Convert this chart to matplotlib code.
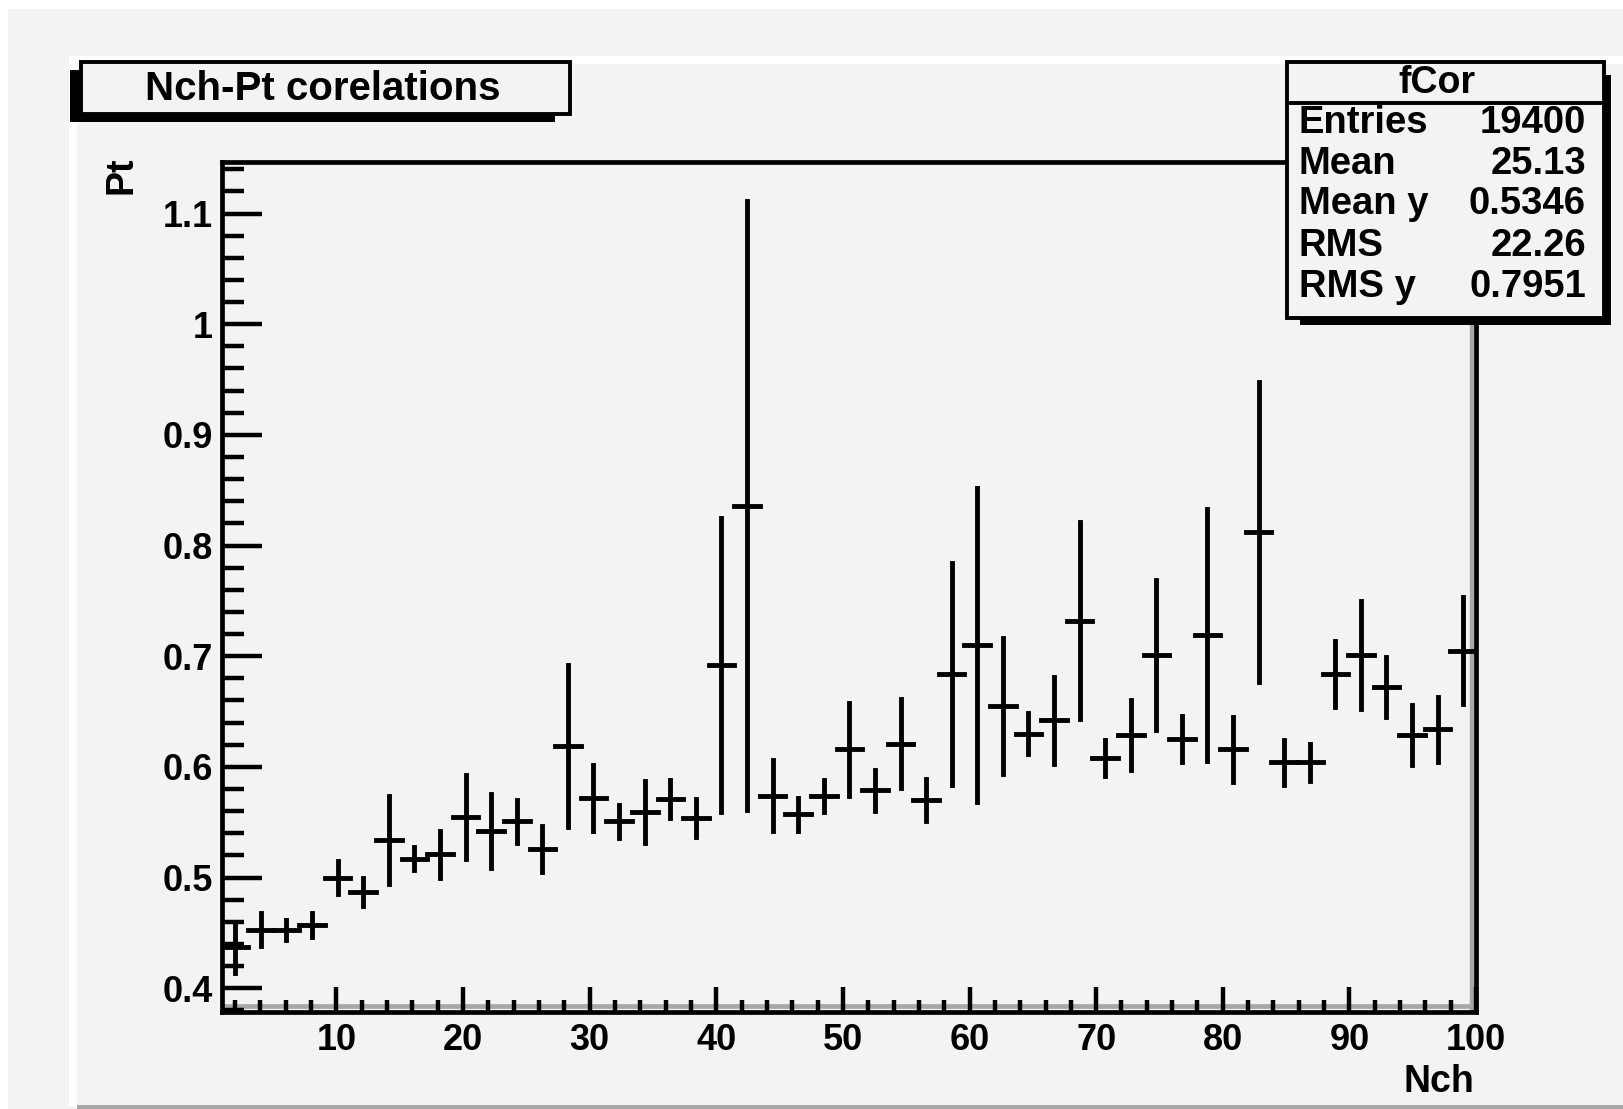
import matplotlib
matplotlib.use('Agg')
import matplotlib.pyplot as plt
from matplotlib.patches import Rectangle
from matplotlib.lines import Line2D
from matplotlib.ticker import MultipleLocator, FuncFormatter

# ---------------- data ----------------
nch = [2.01, 4.03, 6.05, 8.07, 10.09, 12.11, 14.14, 16.16, 18.18, 20.20,
       22.22, 24.24, 26.26, 28.28, 30.30, 32.33, 34.35, 36.37, 38.39, 40.41,
       42.43, 44.45, 46.47, 48.49, 50.51, 52.53, 54.55, 56.57, 58.59, 60.61,
       62.63, 64.65, 66.67, 68.69, 70.71, 72.73, 74.75, 76.77, 78.79, 80.81,
       82.83, 84.85, 86.87, 88.89, 90.91, 92.93, 94.95, 96.97, 98.99]
nch_err = 1.01
pt_mean = [0.437, 0.453, 0.453, 0.457, 0.500, 0.487, 0.534, 0.517, 0.521, 0.555,
           0.542, 0.551, 0.526, 0.619, 0.572, 0.551, 0.559, 0.571, 0.554, 0.692,
           0.836, 0.574, 0.557, 0.574, 0.616, 0.579, 0.621, 0.570, 0.684, 0.710,
           0.655, 0.630, 0.642, 0.732, 0.608, 0.629, 0.701, 0.625, 0.719, 0.616,
           0.812, 0.604, 0.604, 0.684, 0.701, 0.672, 0.629, 0.634, 0.705]
pt_err = [0.023, 0.015, 0.009, 0.011, 0.015, 0.0125, 0.040, 0.0105, 0.021, 0.038,
          0.0335, 0.0195, 0.021, 0.073, 0.030, 0.015, 0.028, 0.017, 0.017, 0.133,
          0.275, 0.032, 0.0145, 0.0145, 0.042, 0.0186, 0.040, 0.0187, 0.100, 0.1417,
          0.0612, 0.0185, 0.0395, 0.089, 0.0165, 0.0316, 0.0675, 0.021, 0.114, 0.0294,
          0.1354, 0.0206, 0.0166, 0.0297, 0.0485, 0.0273, 0.0271, 0.0294, 0.0482]

title = "Nch-Pt corelations"
stats_name = "fCor"
stats_labels = ["Entries", "Mean", "Mean y", "RMS", "RMS y"]
stats_values = ["19400", "25.13", "0.5346", "22.26", "0.7951"]
x_label = "Nch"
y_label = "Pt"

# ---------------- styling ----------------
W, H = 1624, 1109
BG = '#f3f3f3'
FONT = 'Liberation Sans'
FS = 26

fig = plt.figure(figsize=(W / 100, H / 100), dpi=100, facecolor=BG)


def fx(x):
    return x / W


def fy(y):
    return 1 - y / H


def rect(x0, y0, x1, y1, fc, ec='none', lw=0, z=1):
    r = Rectangle((fx(x0), fy(y1)), (x1 - x0) / W, (y1 - y0) / H,
                  transform=fig.transFigure, facecolor=fc, edgecolor=ec,
                  linewidth=lw, zorder=z)
    fig.add_artist(r)
    return r


# canvas / pad borders
rect(0, 0, W, 9, 'white', z=0.5)
rect(0, 0, 8, H, 'white', z=0.5)
rect(69, 56, W, 64, 'white', z=0.5)
rect(69, 56, 77, 1106, 'white', z=0.5)
rect(77, 1105, W, 1109, '#a8a8a8', z=0.5)

# axes frame
ax = fig.add_axes([fx(222.5), fy(1011.5), (1476 - 222.5) / W, (1011.5 - 161.5) / H])
ax.set_facecolor(BG)
ax.set_xlim(1, 100)
ax.set_ylim(0.379, 1.147)

eb = ax.errorbar(nch, pt_mean, yerr=pt_err, xerr=nch_err, fmt='none',
                 ecolor='black', elinewidth=3.5, capsize=0, zorder=3)
for coll in eb[2]:
    coll.set_capstyle('projecting')
    coll.set_clip_on(True)

# frame bevel (gray inner lines at bottom and right), below the ticks
ax.add_line(Line2D([0, 1], [0.006, 0.006], transform=ax.transAxes,
                   color='#a8a8a8', lw=3.4, zorder=1, solid_capstyle='butt'))
ax.add_line(Line2D([0.9965, 0.9965], [0, 1], transform=ax.transAxes,
                   color='#a8a8a8', lw=3.2, zorder=1, solid_capstyle='butt'))
ax.set_axisbelow(False)

for s in ax.spines.values():
    s.set_linewidth(3.4)
    s.set_color('black')
    s.set_zorder(4)

ax.xaxis.set_major_locator(MultipleLocator(10))
ax.xaxis.set_minor_locator(MultipleLocator(2))
ax.yaxis.set_major_locator(MultipleLocator(0.1))
ax.yaxis.set_minor_locator(MultipleLocator(0.02))
ax.yaxis.set_major_formatter(FuncFormatter(lambda v, p: '%g' % round(v, 3)))
ax.xaxis.set_major_formatter(FuncFormatter(lambda v, p: '%g' % round(v, 3)))

ax.tick_params(axis='x', which='major', direction='in', length=18, width=3.2,
               pad=8, labelsize=FS)
ax.tick_params(axis='x', which='minor', direction='in', length=9, width=3.2)
ax.tick_params(axis='y', which='major', direction='in', length=29, width=3.2,
               pad=7, labelsize=FS)
ax.tick_params(axis='y', which='minor', direction='in', length=15.5, width=3.2)
ax.tick_params(top=False, right=False, which='both')
for lab in ax.get_xticklabels() + ax.get_yticklabels():
    lab.set_fontfamily(FONT)
    lab.set_fontweight('bold')

# axis titles (ROOT style: at end of axes)
fig.text(fx(1474), fy(1082), x_label, ha='right', va='center', fontsize=FS + 1,
         fontfamily=FONT, fontweight='bold')
fig.text(fx(121), fy(156), y_label, ha='center', va='top', rotation=90,
         fontsize=FS + 1, fontfamily=FONT, fontweight='bold')

# title box with shadow
rect(70, 70, 555, 122, 'black', z=5)
rect(81, 62, 570, 114, BG, ec='black', lw=2.8, z=6)
fig.text(fx(323), fy(89), title, ha='center', va='center', fontsize=29,
         fontfamily=FONT, fontweight='bold', zorder=7)

# stats box with shadow
rect(1300, 75, 1611, 325, 'black', z=5)
rect(1287, 62, 1604, 318, BG, ec='black', lw=2.8, z=6)
fig.add_artist(Line2D([fx(1287), fx(1604)], [fy(103), fy(103)],
                      transform=fig.transFigure, color='black', lw=2.8, zorder=7))
fig.text(fx(1437), fy(83), stats_name, ha='center', va='center', fontsize=27,
         fontfamily=FONT, fontweight='bold', zorder=8)
row_y = [123, 164, 204, 246, 287]
for lab, val, yy in zip(stats_labels, stats_values, row_y):
    fig.text(fx(1299), fy(yy), lab, ha='left', va='center', fontsize=27.5,
             fontfamily=FONT, fontweight='bold', zorder=8)
    fig.text(fx(1586), fy(yy), val, ha='right', va='center', fontsize=27.5,
             fontfamily=FONT, fontweight='bold', zorder=8)

fig.savefig('out.png', dpi=100, facecolor=fig.get_facecolor())
